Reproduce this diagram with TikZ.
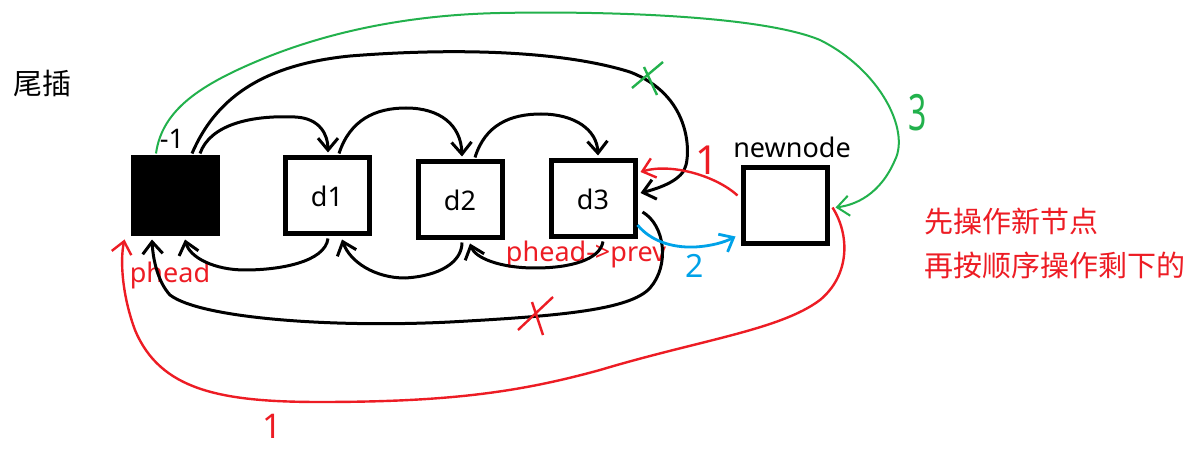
\documentclass[tikz,border=0pt]{standalone}
\usepackage{fontspec}
\setmainfont{Noto Sans}
\newfontfamily\cjk{Noto Sans CJK SC}
\usetikzlibrary{calc, arrows.meta}
\definecolor{pred}{HTML}{ED1C24}
\definecolor{pgreen}{HTML}{22B14C}
\definecolor{pblue}{HTML}{00A2E8}

\begin{document}
\begin{tikzpicture}[x=0.5pt, y=-0.5pt,
        >={Straight Barb[length=6pt,width=10pt]},
        font=\fontsize{13.5}{16}\selectfont,
        box/.style={draw, line width=2.5pt, minimum width=42pt, minimum height=38pt, inner sep=0pt},
        link/.style={->, line width=1.5pt},
        redlink/.style={->, pred, line width=1.2pt},
        greenlink/.style={->, pgreen, line width=1pt},
        bluelink/.style={->, pblue, line width=1.4pt},
        cross/.style={line width=1.2pt},
        cjktext/.style={anchor=north west, inner sep=0pt, align=left, font=\cjk\fontsize{14.5}{22}\selectfont}]
        \path[fill=white] (0,0) rectangle (1200,454);

        %coordinates
        \coordinate (pH) at (175,196);
        \coordinate (p1) at (327,196);
        \coordinate (p2) at (460,200);
        \coordinate (p3) at (593,199);
        \coordinate (pN) at (785,205.5);

        %nodes
        \node[cjktext] (T) at (13,70) {尾插};
        \node[box, fill=black, label={[xshift=-1.5pt]above:-1}] (H) at (pH) {};
        \node[box] (D1) at (p1) {d1};
        \node[box] (D2) at (p2) {d2};
        \node[box] (D3) at (p3) {d3};
        \node[box, label={[xshift=3.5pt]above:newnode}] (N) at (pN) {};

        \node[pred] (ph) at (170,275.5) {phead};
        \node[pred] (php) at (586,254.5) {phead->prev};
        \node[cjktext, pred] (note) at (924,208) {先操作新节点\\再按顺序操作剩下的};

        %edges
        \draw[link] ($(H.north)+(25,-2)$) .. controls (210,125) and (250,115) .. (295,117) .. controls (320,118) and (328,135) .. ($(D1.north)+(1,-3)$);
        \draw[link] ($(D1.north)+(12,-2)$) .. controls (350,120) and (375,108) .. (406,108) .. controls (440,108) and (461,125) .. ($(D2.north)+(2,-3)$);
        \draw[link] ($(D2.north)+(15,-2)$) .. controls (485,125) and (510,114) .. (541,114) .. controls (575,114) and (597,130) .. ($(D3.north)+(5,-3)$);
        \draw[link] ($(H.north)+(17,-2)$) .. controls (215,100) and (260,65) .. (350,56) .. controls (450,48) and (560,50) .. (630,72) .. controls (690,95) and (690,150) .. (686,165) .. controls (683,180) and (660,188) .. ($(D3.east)+(3,-6)$);

        \draw[link] ($(D1.south)+(1,2)$) .. controls (325,262) and (280,270) .. (245,270) .. controls (215,270) and (190,258) .. ($(H.south)+(10,3)$);
        \draw[link] ($(D2.south)+(2,2)$) .. controls (462,262) and (440,276) .. (405,278) .. controls (375,278) and (350,262) .. ($(D1.south)+(15,3)$);
        \draw[link] ($(D3.south)+(10,2)$) .. controls (600,260) and (570,268) .. (535,268) .. controls (500,268) and (475,258) .. ($(D2.south)+(10,3)$);
        \draw[link] ($(D3.east)+(5,13)$) .. controls (665,225) and (670,265) .. (650,288) .. controls (630,310) and (560,316) .. (450,322) .. controls (330,328) and (200,318) .. (170,295) .. controls (158,282) and (153,260) .. ($(H.south)+(-23,3)$);

        % 1: newnode first
        \draw[redlink] ($(N.west)+(-3,-10)$) .. controls (715,175) and (670,163) .. ($(D3.east)+(3,-27)$);
        \draw[redlink] ($(N.east)+(3,2)$) .. controls (850,235) and (850,275) .. (820,300) .. controls (780,330) and (700,340) .. (600,370) .. controls (520,392) and (450,402) .. (320,402) .. controls (220,402) and (160,390) .. (135,330) .. controls (122,295) and (120,260) .. ($(H.south west)+(-6,3)$);
        \node[pred, font=\fontsize{20}{20}\selectfont\bfseries] (n1a) at (707,160) {1};
        \node[pred, font=\fontsize{17}{17}\selectfont] (n1b) at (272,426) {1};

        % 2
        \draw[bluelink] ($(D3.east)+(0,26)$) .. controls (650,240) and (670,248) .. (695,247) .. controls (712,246) and (725,242) .. ($(N.west)+(-5,31)$);
        \node[pblue, font=\fontsize{16}{16}\selectfont] (n2) at (695,266) {2};

        % 3
        \draw[greenlink] ($(H.north)+(-19,-2)$) .. controls (162,110) and (200,85) .. (260,60) .. controls (320,35) and (400,15) .. (500,13) .. controls (600,11) and (760,15) .. (820,40) .. controls (880,70) and (910,130) .. (895,160) .. controls (880,195) and (855,205) .. ($(N.east)+(6,2)$);
        \node[pgreen, font=\fontsize{20}{20}\selectfont] (n3) at (918,113) {\scalebox{0.8}[1.25]{3}};

        %crossed out
        \draw[cross, pgreen] (632,88) -- (663,62) (644,67) -- (657,95);
        \draw[cross, pred] (518,330) -- (553,297) (532,302) -- (543,335);
    \end{tikzpicture}
\end{document}
